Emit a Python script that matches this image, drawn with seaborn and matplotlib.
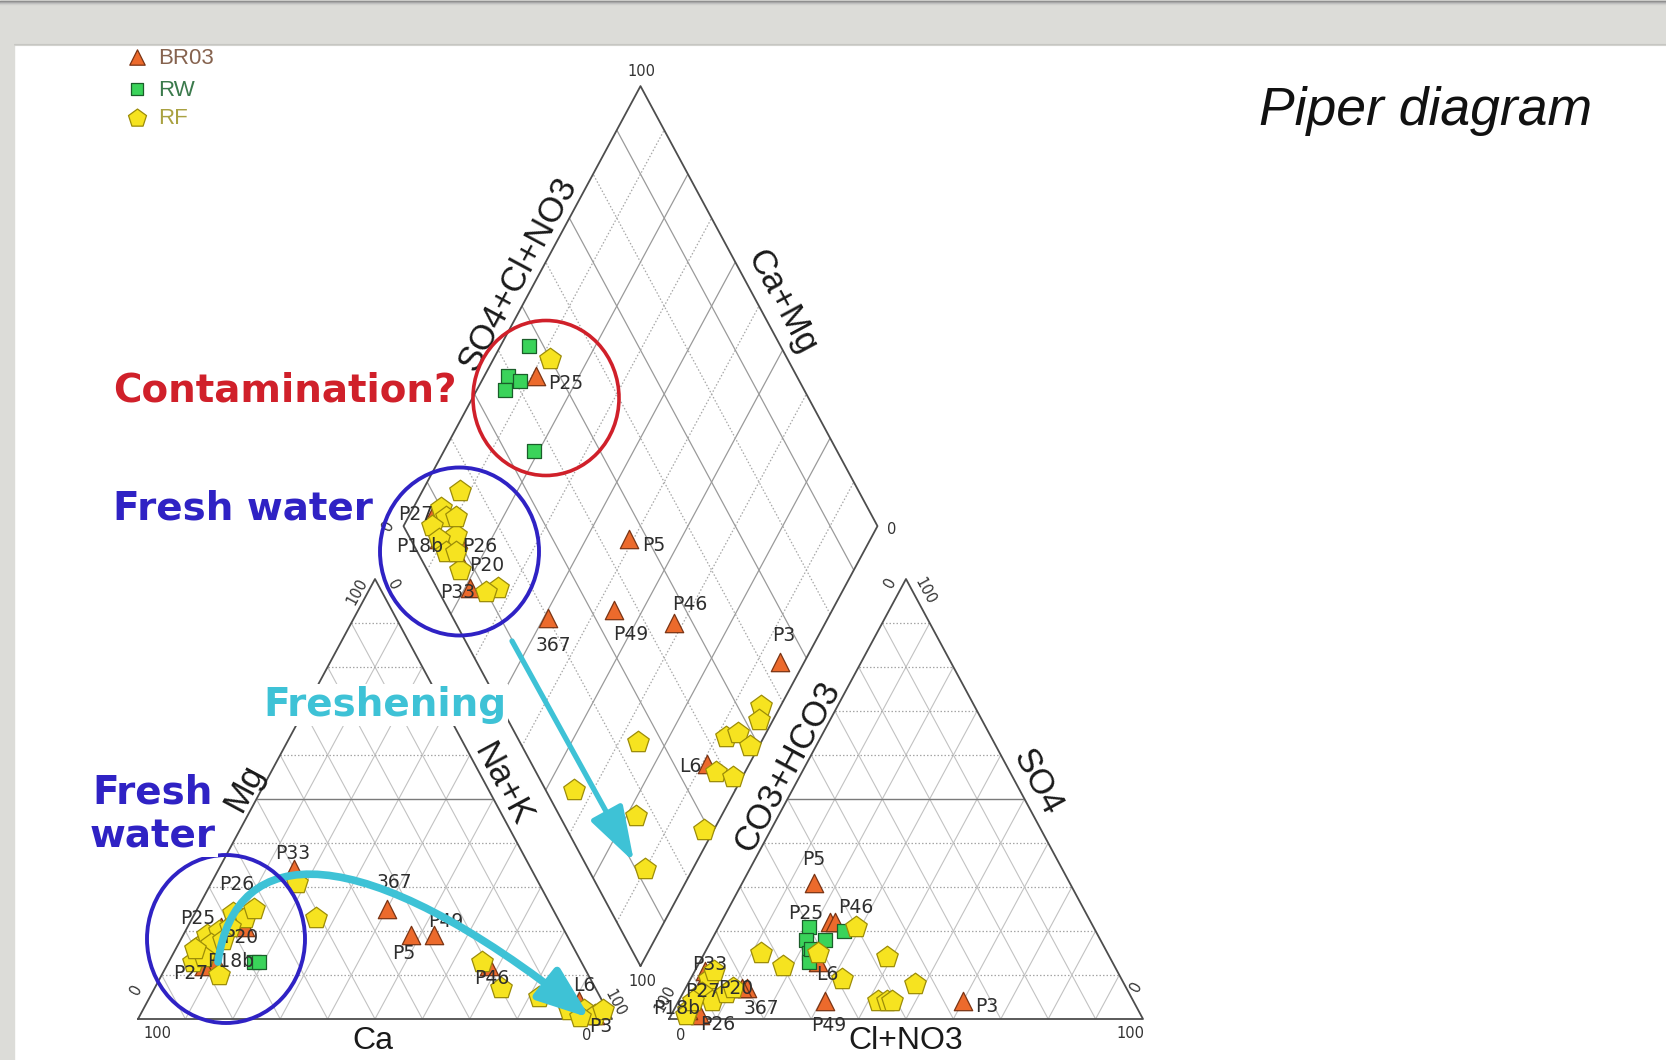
import numpy as np
import matplotlib
matplotlib.use("Agg")
import matplotlib.pyplot as plt
from matplotlib.patches import Ellipse, Rectangle, FancyArrowPatch
from matplotlib.path import Path
import seaborn as sns

# ------------------------------------------------------------------
# DATA  (percent of meq/L)
# ------------------------------------------------------------------
br03_labels = ["P33", "P26", "P25", "P20", "P18b", "P27", "367", "P49", "P5", "P46", "L6", "P3"]

# cation triangle (Mg, Na+K ; Ca = rest)
br03_cat_mg = [34, 23, 21, 21, 13, 12, 25, 19, 19, 12, 4, 1]
br03_cat_nak = [16, 8, 7, 12, 10, 8, 40, 53, 48, 68, 91, 96]
rw_cat_mg = [13, 13]
rw_cat_nak = [18, 19]
rf_cat_mg = [17, 15, 13, 10, 19, 20, 24, 23, 25, 17, 14, 21, 18, 16, 23, 31, 13, 7, 5, 2, 2, 1, 2, 0.5]
rf_cat_nak = [5, 5, 5, 12, 5, 7, 8, 11, 12, 7, 7, 9, 9, 4, 26, 18, 66, 73, 82, 90, 93, 96, 97, 93]

# anion triangle (SO4, Cl+NO3 ; CO3+HCO3 = rest)
br03_an_so4 = [11, 1, 22, 7, 2, 7, 7, 4, 31, 22, 13, 4]
br03_an_cl = [2, 6, 23, 13, 3, 3, 12, 31, 15, 24, 25, 60]
rw_an_so4 = [21, 18, 15, 13, 18, 20, 16]
rw_an_cl = [19, 20, 22, 23, 24, 27, 22]
rf_an_so4 = [21, 15, 15, 12, 14, 9, 8, 4, 4, 4, 9, 6, 4, 2, 1, 6, 7, 4, 11]
rf_an_cl = [29, 24, 12, 18, 39, 32, 48, 42, 44, 45, 4, 4, 7, 3, 3, 9, 10, 3, 4]

# diamond (Na+K, SO4+Cl+NO3)
br03_dia_nak = [7, 10, 45, 8, 6, 8, 20, 35, 46, 46, 37, 64]
br03_dia_so4cl = [79, 87, 89, 84, 91, 95, 59, 46, 51, 32, 9, 5]
rw_dia_nak = [47, 39, 41, 37, 36]
rw_dia_so4cl = [94, 95, 92, 94, 81]
rf_dia_nak = [50, 16, 10, 10, 6, 10, 6, 6, 7, 13, 10, 12, 8,
              25, 6, 16, 12, 29, 55, 53, 44, 47, 48, 38, 41]
rf_dia_so4cl = [88, 92, 94, 92, 94, 88, 91, 88, 83, 73, 75, 90, 86,
                26, 34, 18, 10, 2, 4, 3, 8, 6, 2, 6, 2]

legend_names = ["BR03", "RW", "RF"]

# ------------------------------------------------------------------
# LAYOUT (pixel geometry of the Piper frame)
# ------------------------------------------------------------------
W, HF = 1666, 1060
L, H, GAP = 474.0, 440.0, 57.0
CAT_X, BASE_Y = 138.0, 1019.0
AN_X = CAT_X + L + GAP
DX, DY = CAT_X + L + GAP / 2, BASE_Y - GAP * H / L
ANG = np.degrees(np.arctan2(H, L / 2))


def tri_xy(ox, a, b):
    a = np.asarray(a, float) / 100
    b = np.asarray(b, float) / 100
    return ox + a * L + b * L / 2, BASE_Y - b * H


def dia_xy(s, t):
    s = np.asarray(s, float) / 100
    t = np.asarray(t, float) / 100
    return DX + (s - t) * L / 2, DY - (s + t) * H


sns.set_theme(style="white")
plt.rcParams['font.family'] = ['DejaVu Sans']

fig = plt.figure(figsize=(W / 100, HF / 100), dpi=100)
ax = fig.add_axes([0, 0, 1, 1])
ax.set_xlim(0, W)
ax.set_ylim(HF, 0)
ax.axis('off')

# page background
ax.add_patch(Rectangle((0, 0), W, 44, color='#dcdcd8', zorder=0))
ax.add_patch(Rectangle((0, 0), 14, HF, color='#dcdcd8', zorder=0))
for k, c in enumerate(['#8a8a8a', '#a4a4a4', '#bcbcbc', '#cfcfcc']):
    ax.plot([0, W], [k + 0.5, k + 0.5], color=c, lw=1, zorder=0.5)
for k, c in enumerate(['#c6c6c2', '#d2d2ce']):
    ax.plot([14, W], [44 + k, 44 + k], color=c, lw=0.8, zorder=0.5)

GRID_SOLID = dict(color='#c2c2c2', lw=0.8, zorder=1)
GRID_DOT = dict(color='#a6a6a6', lw=0.9, ls=(0, (1.2, 1.6)), zorder=1)
EDGE = dict(color='#4d4d4d', lw=1.3, zorder=2)


def seg(p, q, **kw):
    ax.plot([p[0], q[0]], [p[1], q[1]], solid_capstyle='butt', **kw)


def draw_triangle(ox):
    for i in range(1, 10):
        f = i * 10
        st = dict(color='#7a7a7a', lw=1.0, zorder=1) if i == 5 else GRID_DOT
        seg(tri_xy(ox, 0, f), tri_xy(ox, 100 - f, f), **st)
        seg(tri_xy(ox, f, 0), tri_xy(ox, f, 100 - f), **GRID_SOLID)
        seg(tri_xy(ox, 100 - f, 0), tri_xy(ox, 0, 100 - f), **GRID_SOLID)
    c = [tri_xy(ox, 0, 0), tri_xy(ox, 100, 0), tri_xy(ox, 0, 100), tri_xy(ox, 0, 0)]
    ax.plot([p[0] for p in c], [p[1] for p in c], **EDGE)


def draw_diamond():
    for i in range(1, 10):
        f = i * 10
        st1 = dict(color='#9a9a9a', lw=0.9, zorder=1) if i % 2 else GRID_DOT
        st2 = dict(color='#9a9a9a', lw=0.9, zorder=1) if i % 2 == 0 else GRID_DOT
        seg(dia_xy(f, 0), dia_xy(f, 100), **st1)
        seg(dia_xy(0, f), dia_xy(100, f), **st2)
    c = [dia_xy(0, 0), dia_xy(100, 0), dia_xy(100, 100), dia_xy(0, 100), dia_xy(0, 0)]
    ax.plot([p[0] for p in c], [p[1] for p in c], **EDGE)


draw_triangle(CAT_X)
draw_triangle(AN_X)
draw_diamond()

# ------------------------------------------------------------------
# markers
# ------------------------------------------------------------------
STY = {
    "BR03": dict(marker='^', s=175, color='#ec6a2c', edgecolor='#7a3414', linewidth=0.9),
    "RW": dict(marker='s', s=110, color='#3ad35a', edgecolor='#1a5e2a', linewidth=0.9),
    "RF": dict(marker='p', s=265, color='#f6e320', edgecolor='#9c8c08', linewidth=0.9),
}
ZO = {"BR03": 5, "RW": 6, "RF": 7}

panels = [
    ("cat", {"BR03": tri_xy(CAT_X, br03_cat_nak, br03_cat_mg),
             "RW": tri_xy(CAT_X, rw_cat_nak, rw_cat_mg),
             "RF": tri_xy(CAT_X, rf_cat_nak, rf_cat_mg)}),
    ("an", {"BR03": tri_xy(AN_X, br03_an_cl, br03_an_so4),
            "RW": tri_xy(AN_X, rw_an_cl, rw_an_so4),
            "RF": tri_xy(AN_X, rf_an_cl, rf_an_so4)}),
    ("dia", {"BR03": dia_xy(br03_dia_nak, br03_dia_so4cl),
             "RW": dia_xy(rw_dia_nak, rw_dia_so4cl),
             "RF": dia_xy(rf_dia_nak, rf_dia_so4cl)}),
]

label_offsets = {
    "cat": {"P33": (-2, -16), "P26": (6, -33), "P25": (-23, -8), "P20": (-4, 11), "P18b": (14, 0),
            "P27": (-14, 7), "367": (8, -27), "P49": (12, -14), "P5": (-7, 18), "P46": (3, 12),
            "L6": (5, -16), "P3": (5, 12)},
    "an": {"P33": (5, -6), "P26": (18, 10), "P25": (-24, -9), "P20": (-12, 0), "P18b": (-11, -2),
           "P27": (3, 3), "367": (19, 20), "P49": (3, 24), "P5": (0, -23), "P46": (21, -15),
           "L6": (9, 13), "P3": (24, 5)},
    "dia": {"P33": (-12, 5), "P26": (22, 7), "P25": (29, 7), "P20": (26, 4), "P18b": (-19, 7),
            "P27": (-19, 2), "367": (5, 27), "P49": (16, 25), "P5": (25, 6), "P46": (16, -18),
            "L6": (-17, 3), "P3": (3, -27)},
}

for name, groups in panels:
    for g in legend_names:
        xs, ys = groups[g]
        sns.scatterplot(x=np.atleast_1d(xs), y=np.atleast_1d(ys), ax=ax, legend=False,
                        zorder=ZO[g], **STY[g])
    bx, by = groups["BR03"]
    for lab, x, y in zip(br03_labels, bx, by):
        dx, dy = label_offsets[name][lab]
        ax.text(x + dx, y + dy, lab, fontsize=13.5, color='#2e2e2e', ha='center', va='center',
                zorder=9)

# legend (top-left)
leg_y = [57, 89, 118]
leg_col = ['#86634f', '#3b7a4c', '#a9a141']
for g, y, c in zip(legend_names, leg_y, leg_col):
    st = dict(STY[g])
    st['s'] = st['s'] * 0.7
    sns.scatterplot(x=[137], y=[y], ax=ax, legend=False, zorder=9, **st)
    ax.text(158, y + 1, g, fontsize=16, color=c, family='Liberation Sans', va='center', ha='left')

# ------------------------------------------------------------------
# axis titles and tick labels
# ------------------------------------------------------------------
AX_FONT = dict(family='Liberation Sans', color='#1a1a1a', ha='center', va='center', zorder=3)
ax.text(373, 1041, "Ca", fontsize=23, **AX_FONT)
ax.text(906, 1041, "Cl+NO3", fontsize=23, **AX_FONT)
ax.text(244, 788, "Mg", fontsize=25, rotation=ANG, **AX_FONT)
ax.text(502, 784, "Na+K", fontsize=25, rotation=-ANG, **AX_FONT)
ax.text(788, 767, "CO3+HCO3", fontsize=25, rotation=ANG, **AX_FONT)
ax.text(1037, 782, "SO4", fontsize=25, rotation=-ANG, **AX_FONT)
ax.text(518, 274, "SO4+Cl+NO3", fontsize=25, rotation=ANG, **AX_FONT)
ax.text(782, 302, "Ca+Mg", fontsize=25, rotation=-ANG, **AX_FONT)

ticks = [("100", 157, 1034, 0), ("0", 136, 990, ANG), ("100", 357, 592, ANG),
         ("0", 393, 585, -ANG), ("100", 615, 1003, -ANG), ("0", 587, 1036, 0),
         ("100", 665, 999, ANG), ("0", 681, 1035, 0), ("0", 890, 583, ANG),
         ("100", 925, 591, -ANG), ("0", 1136, 987, ANG), ("100", 1130, 1034, 0),
         ("100", 641, 72, 0), ("0", 892, 529, 0), ("100", 642, 981, 0), ("0", 388, 526, ANG)]
for t, x, y, r in ticks:
    ax.text(x, y, t, fontsize=10.5, rotation=r, color='#333333', ha='center', va='center', zorder=3)

# ------------------------------------------------------------------
# annotations
# ------------------------------------------------------------------
CYAN = '#3ec2d6'
BLUE = '#2f22c4'
RED = '#d0202a'

ax.add_patch(Ellipse((546, 398), 146, 155, fill=False, ec=RED, lw=2.6, zorder=11))
ax.add_patch(Ellipse((459.5, 551.5), 159, 168, fill=False, ec=BLUE, lw=2.8, zorder=11))
ax.add_patch(Ellipse((226, 939), 158, 168, fill=False, ec=BLUE, lw=2.8, zorder=11))

ax.add_patch(FancyArrowPatch((512, 641), (634, 862), arrowstyle='-|>,head_length=3.4,head_width=1.1',
                             mutation_scale=10, color=CYAN, lw=3.8, shrinkA=0, shrinkB=0, zorder=10))
curve = Path([(218, 962), (235, 840), (360, 835), (590, 1018)],
             [Path.MOVETO, Path.CURVE4, Path.CURVE4, Path.CURVE4])
ax.add_patch(FancyArrowPatch(path=curve, arrowstyle='-|>,head_length=3.2,head_width=1.2',
                             mutation_scale=10, color=CYAN, lw=5.5, zorder=10))

ANN = dict(fontsize=28, fontweight='bold', family='DejaVu Sans', va='center', ha='left', zorder=12,
           bbox=dict(facecolor='white', edgecolor='none', pad=1))
ax.text(113, 390, "Contamination?", color=RED, **ANN)
ax.text(113, 508, "Fresh water", color=BLUE, **ANN)
ax.text(263, 705, "Freshening", color=CYAN, **ANN)
ax.text(92, 792, "Fresh", color=BLUE, **ANN)
ax.text(90, 836, "water", color=BLUE, **ANN)

ax.text(1259, 111, "Piper diagram", fontsize=38.5, style='italic', family='Liberation Sans',
        color='#111111', va='center', ha='left')

fig.savefig("out.png", dpi=100)
